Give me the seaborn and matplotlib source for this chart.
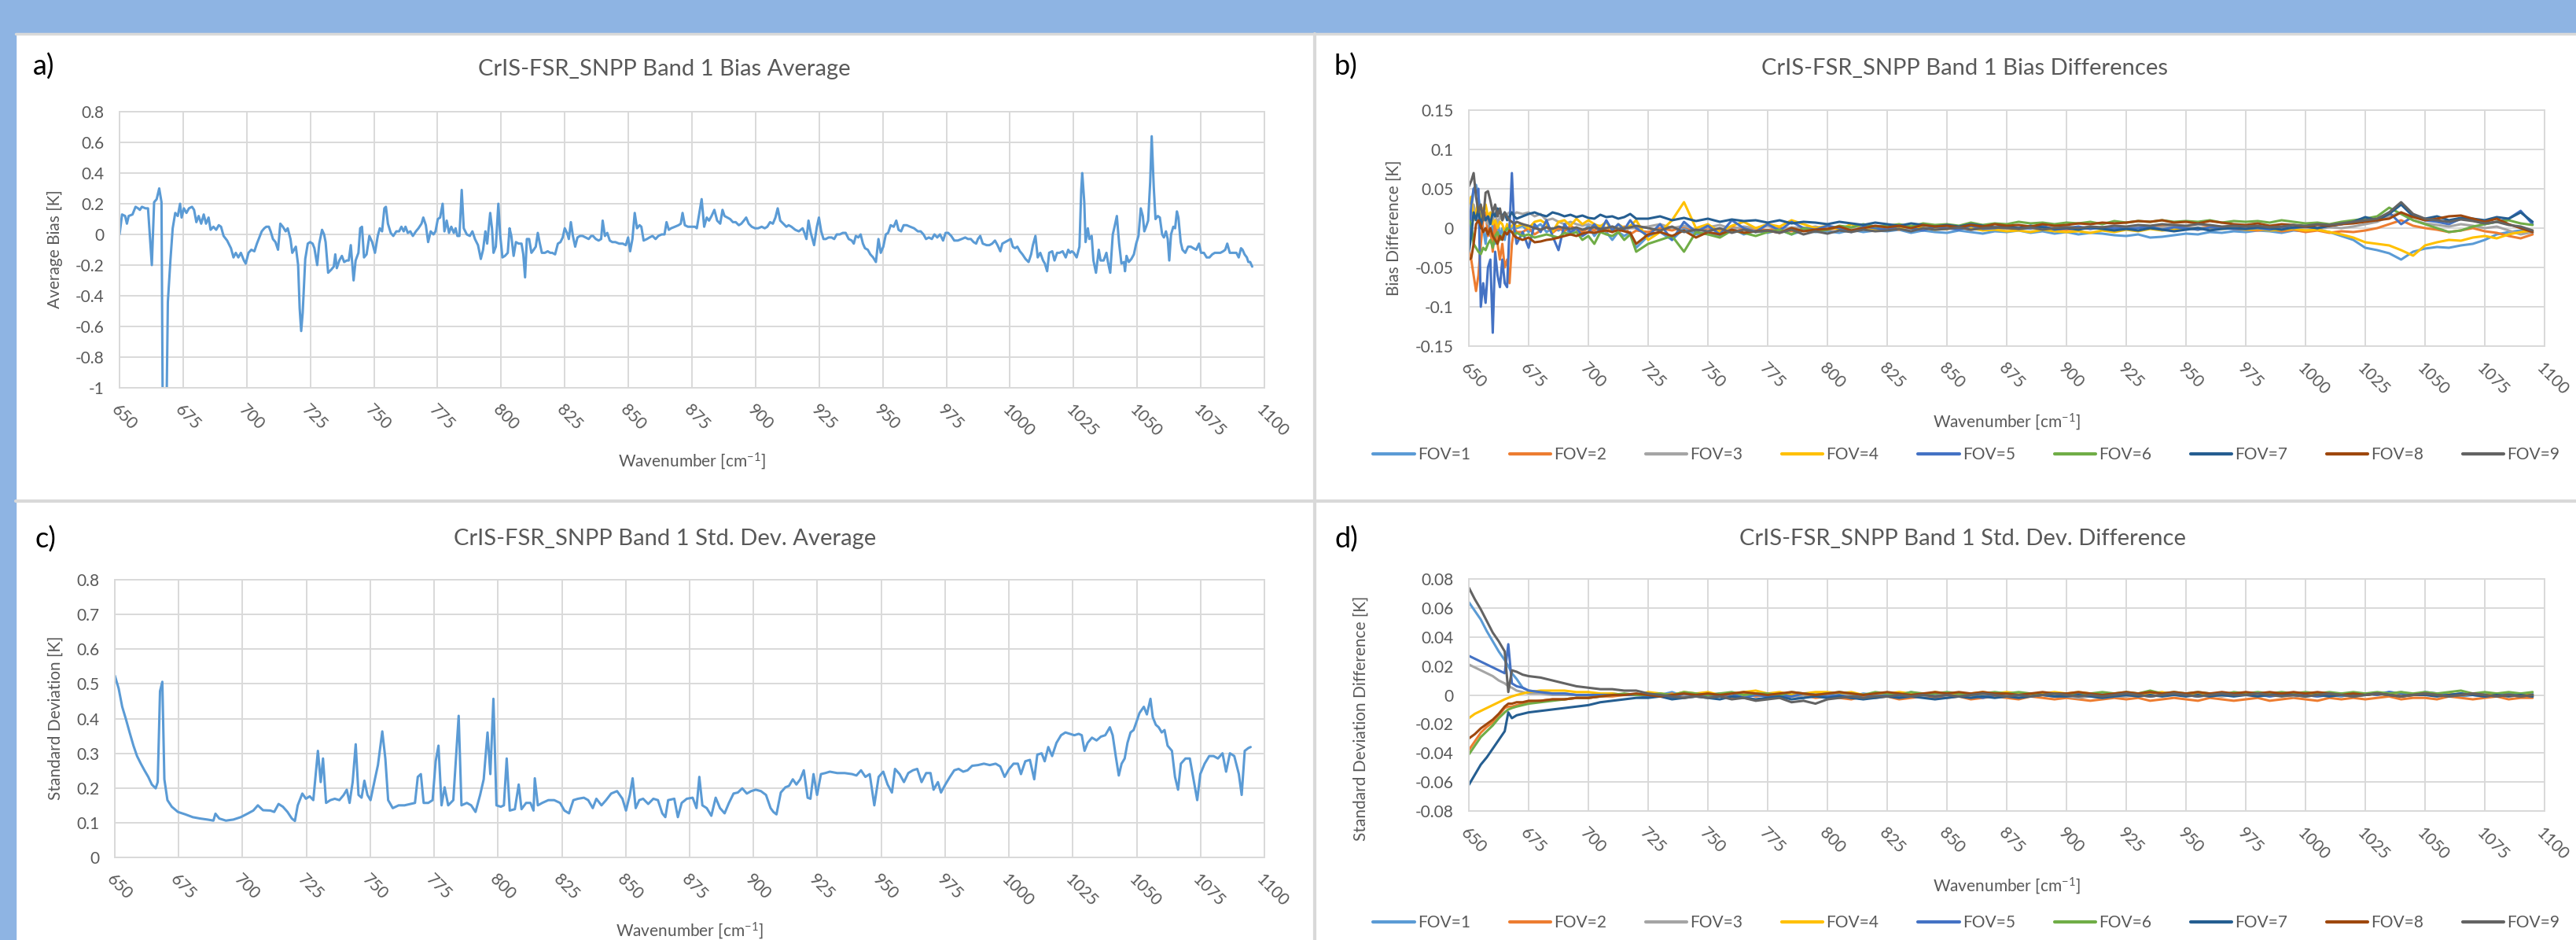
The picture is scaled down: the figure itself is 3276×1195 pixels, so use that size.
import numpy as np
import matplotlib
matplotlib.use("Agg")
import matplotlib.pyplot as plt
from matplotlib.patches import Rectangle
from matplotlib.lines import Line2D
import seaborn as sns

sns.set_style("white")
plt.rcParams['font.family'] = ['Lato', 'DejaVu Sans']
plt.rcParams['mathtext.default'] = 'regular'

# ---------------- DATA ----------------
fov_labels = ["FOV=1", "FOV=2", "FOV=3", "FOV=4", "FOV=5", "FOV=6", "FOV=7", "FOV=8", "FOV=9"]
fov_colors = ["#5B9BD5", "#ED7D31", "#A5A5A5", "#FFC000", "#4472C4", "#70AD47", "#255E91", "#9E480E", "#636363"]
x_ticks = [650, 675, 700, 725, 750, 775, 800, 825, 850, 875, 900, 925, 950, 975, 1000, 1025, 1050, 1075, 1100]
y_ticks_a = [-1, -0.8, -0.6, -0.4, -0.2, 0, 0.2, 0.4, 0.6, 0.8]
y_ticks_b = [-0.15, -0.1, -0.05, 0, 0.05, 0.1, 0.15]
y_ticks_c = [0, 0.1, 0.2, 0.3, 0.4, 0.5, 0.6, 0.7, 0.8]
y_ticks_d = [-0.08, -0.06, -0.04, -0.02, 0, 0.02, 0.04, 0.06, 0.08]

# panel a: average bias [K]
wn_a = [650.0, 651.0, 652.2, 652.9, 653.6, 655.1, 656.3, 657.3, 658.0, 658.8,
        660.2, 661.2, 662.7, 663.6, 664.6, 665.6, 666.5, 667.1, 668.2, 669.0,
        670.0, 670.9, 671.9, 672.9, 673.8, 674.4, 675.3, 676.3, 677.3, 678.5,
        679.3, 680.2, 681.1, 682.1, 683.1, 684.0, 685.0, 685.8, 686.9, 688.0,
        689.0, 689.9, 690.9, 692.3, 693.8, 694.8, 695.7, 696.7, 697.7, 698.9,
        699.6, 700.7, 701.8, 703.0, 704.0, 705.2, 705.9, 706.9, 707.7, 708.7,
        709.4, 710.3, 711.3, 712.3, 713.2, 714.2, 715.3, 716.1, 717.2, 717.9,
        718.6, 719.3, 720.2, 720.8, 721.4, 722.0, 723.0, 724.0, 724.9, 725.9,
        726.6, 727.7, 728.5, 729.6, 730.4, 731.0, 732.0, 733.2, 734.2, 734.8,
        735.4, 736.4, 737.4, 738.3, 739.3, 740.1, 740.9, 742.0, 742.8, 743.9,
        744.6, 745.3, 746.1, 747.1, 748.2, 749.3, 750.4, 751.5, 752.3, 753.2,
        754.1, 754.7, 755.5, 756.6, 757.6, 758.8, 759.9, 760.8, 761.7, 762.4,
        763.3, 764.3, 765.3, 766.5, 767.5, 768.7, 769.4, 770.4, 771.3, 772.3,
        773.4, 774.2, 775.1, 776.0, 777.0, 777.7, 778.6, 779.5, 780.4, 781.4,
        782.1, 782.8, 783.6, 784.5, 785.3, 786.5, 787.7, 788.7, 789.7, 790.9,
        792.0, 792.9, 793.8, 794.5, 795.7, 796.4, 797.0, 797.9, 798.9, 799.6,
        800.5, 801.5, 802.6, 803.3, 804.0, 804.9, 805.8, 806.9, 808.0, 808.7,
        809.4, 810.1, 811.0, 811.9, 812.8, 813.6, 814.4, 815.1, 816.0, 817.2,
        818.3, 819.3, 820.1, 821.2, 822.3, 823.3, 824.2, 825.0, 825.9, 826.6,
        827.4, 828.2, 829.1, 830.0, 831.0, 832.0, 833.2, 834.4, 835.4, 836.1,
        837.2, 838.3, 839.3, 839.9, 840.8, 841.7, 842.7, 843.7, 844.9, 846.4,
        847.8, 849.0, 849.9, 850.7, 851.6, 852.5, 853.4, 854.4, 855.1, 856.0,
        857.3, 858.3, 859.5, 860.7, 861.8, 863.1, 864.2, 865.0, 865.9, 866.8,
        868.3, 869.7, 870.6, 871.3, 872.2, 873.4, 874.8, 876.2, 876.9, 877.6,
        878.8, 879.8, 880.8, 881.7, 882.7, 883.8, 884.9, 886.1, 887.0, 887.8,
        888.9, 890.0, 891.1, 892.2, 893.4, 894.4, 895.4, 896.3, 897.3, 898.5,
        899.8, 901.0, 902.4, 903.6, 904.6, 905.7, 906.8, 907.8, 908.7, 909.7,
        910.9, 912.1, 913.0, 914.1, 915.6, 917.0, 918.5, 919.2, 920.0, 920.8,
        921.7, 923.0, 924.1, 924.9, 925.8, 926.7, 927.6, 928.7, 929.9, 930.9,
        931.9, 933.1, 934.3, 935.4, 936.6, 937.8, 938.6, 939.4, 940.4, 941.3,
        942.2, 943.0, 944.1, 945.1, 946.2, 947.3, 948.3, 949.2, 950.2, 951.2,
        952.1, 953.1, 954.3, 955.3, 956.2, 957.2, 958.2, 959.4, 960.8, 962.3,
        963.8, 964.9, 966.0, 967.0, 968.1, 969.3, 970.3, 971.4, 972.5, 973.7,
        974.7, 975.7, 976.9, 978.1, 979.5, 981.0, 982.4, 983.5, 984.6, 985.7,
        986.7, 987.4, 988.3, 989.3, 990.8, 991.9, 993.0, 994.1, 995.1, 996.2,
        997.0, 998.1, 999.2, 1000.3, 1001.1, 1002.0, 1002.9, 1003.9, 1004.9, 1006.1,
        1007.3, 1008.3, 1009.0, 1010.0, 1010.9, 1011.9, 1013.0, 1013.7, 1014.6, 1015.4,
        1016.6, 1017.5, 1018.5, 1019.5, 1020.7, 1021.9, 1022.9, 1023.6, 1024.3, 1025.1,
        1026.2, 1027.3, 1028.0, 1028.4, 1029.2, 1029.7, 1030.6, 1031.2, 1032.1, 1032.8,
        1033.8, 1034.9, 1035.6, 1036.8, 1037.9, 1038.5, 1039.4, 1040.4, 1041.1, 1042.0,
        1042.9, 1043.8, 1044.8, 1045.2, 1045.8, 1046.7, 1047.7, 1048.7, 1049.6, 1050.5,
        1051.4, 1052.2, 1052.8, 1053.5, 1054.3, 1055.1, 1055.7, 1056.5, 1057.2, 1058.1,
        1058.9, 1059.8, 1060.5, 1061.3, 1062.0, 1062.6, 1063.3, 1064.2, 1064.9, 1065.6,
        1066.2, 1067.1, 1067.8, 1068.9, 1070.0, 1071.1, 1072.1, 1073.2, 1074.3, 1075.1,
        1076.2, 1077.3, 1078.4, 1079.5, 1080.5, 1081.7, 1082.7, 1083.8, 1084.6, 1085.4,
        1086.4, 1087.3, 1088.2, 1089.0, 1089.9, 1090.8, 1091.4, 1092.2, 1093.1, 1093.7,
        1094.4, 1095.2]
bias_avg = [0.00, 0.13, 0.12, 0.07, 0.12, 0.13, 0.18, 0.17, 0.16, 0.18,
            0.17, 0.17, -0.20, 0.21, 0.23, 0.30, 0.21, -1.50, -1.50, -0.44,
            -0.17, 0.04, 0.14, 0.12, 0.20, 0.11, 0.17, 0.14, 0.17, 0.18,
            0.16, 0.08, 0.12, 0.07, 0.13, 0.07, 0.11, 0.03, 0.05, 0.03,
            0.06, 0.05, -0.01, -0.04, -0.09, -0.15, -0.12, -0.15, -0.12, -0.17,
            -0.19, -0.12, -0.10, -0.11, -0.06, -0.01, 0.02, 0.04, 0.05, 0.05,
            0.02, -0.03, -0.05, -0.10, 0.07, 0.05, 0.02, 0.04, -0.03, -0.12,
            -0.10, -0.08, -0.20, -0.48, -0.63, -0.51, -0.16, -0.06, -0.05, -0.06,
            -0.09, -0.20, -0.06, 0.03, 0.00, -0.05, -0.25, -0.23, -0.21, -0.13,
            -0.22, -0.17, -0.14, -0.18, -0.17, -0.17, -0.07, -0.30, -0.17, -0.12,
            0.04, 0.05, -0.15, -0.13, -0.01, -0.05, -0.12, -0.01, 0.04, 0.02,
            0.17, 0.18, 0.07, 0.01, -0.01, 0.02, 0.02, 0.05, 0.02, 0.05,
            0.01, 0.02, -0.01, 0.02, 0.04, 0.07, 0.11, 0.06, -0.05, 0.02,
            0.00, 0.02, 0.10, 0.11, 0.20, 0.02, 0.09, 0.01, 0.05, 0.01,
            0.04, -0.01, -0.01, 0.29, 0.04, 0.00, -0.01, 0.02, -0.03, -0.07,
            -0.16, -0.10, 0.02, -0.06, 0.14, 0.04, -0.12, -0.08, 0.20, 0.00,
            -0.15, -0.14, -0.12, 0.04, -0.01, -0.14, -0.05, -0.06, -0.06, -0.13,
            -0.28, -0.03, -0.03, -0.12, -0.10, -0.08, 0.01, -0.05, -0.12, -0.12,
            -0.11, -0.12, -0.12, -0.13, -0.06, -0.05, -0.02, 0.04, 0.01, -0.03,
            0.08, -0.01, -0.08, -0.02, -0.01, -0.01, -0.02, -0.03, -0.01, -0.01,
            -0.03, -0.04, -0.03, 0.09, -0.01, 0.01, -0.04, -0.05, -0.05, -0.06,
            -0.06, -0.07, -0.02, -0.11, -0.03, 0.14, 0.04, 0.06, 0.05, -0.04,
            -0.03, -0.02, -0.01, -0.03, -0.01, 0.00, 0.00, 0.08, 0.03, 0.04,
            0.05, 0.06, 0.07, 0.14, 0.06, 0.05, 0.05, 0.05, 0.04, 0.11,
            0.23, 0.05, 0.11, 0.09, 0.12, 0.16, 0.09, 0.07, 0.16, 0.12,
            0.11, 0.10, 0.08, 0.08, 0.06, 0.07, 0.09, 0.11, 0.07, 0.05,
            0.04, 0.04, 0.05, 0.04, 0.05, 0.08, 0.07, 0.11, 0.17, 0.09,
            0.07, 0.05, 0.06, 0.05, 0.03, 0.02, 0.04, 0.01, -0.03, 0.09,
            0.01, -0.07, 0.05, 0.11, 0.02, -0.03, -0.03, -0.02, -0.02, -0.03,
            0.00, 0.00, 0.01, 0.01, -0.03, -0.04, -0.06, -0.01, -0.02, 0.00,
            -0.06, -0.09, -0.10, -0.13, -0.15, -0.18, -0.03, -0.12, -0.08, 0.00,
            0.01, 0.06, 0.05, 0.09, 0.03, 0.02, 0.06, 0.06, 0.05, 0.04,
            0.02, 0.02, 0.00, -0.03, -0.02, -0.03, 0.00, -0.02, 0.00, -0.04,
            0.01, 0.01, -0.01, -0.04, -0.04, -0.03, -0.02, -0.03, -0.03, -0.05,
            -0.06, -0.03, -0.01, -0.06, -0.07, -0.07, -0.06, -0.04, -0.07, -0.11,
            -0.06, -0.05, -0.04, -0.03, -0.08, -0.09, -0.08, -0.11, -0.13, -0.16,
            -0.18, -0.13, -0.07, -0.01, -0.15, -0.12, -0.17, -0.19, -0.24, -0.12,
            -0.11, -0.17, -0.12, -0.12, -0.11, -0.15, -0.10, -0.12, -0.11, -0.12,
            -0.15, -0.08, 0.29, 0.40, 0.21, -0.05, 0.04, -0.03, -0.01, -0.17,
            -0.25, -0.10, -0.17, -0.17, -0.12, -0.18, -0.25, 0.00, 0.05, 0.12,
            -0.06, -0.19, -0.18, -0.24, -0.14, -0.18, -0.16, -0.13, -0.06, -0.01,
            0.17, 0.12, 0.02, 0.05, 0.09, 0.34, 0.64, 0.31, 0.10, 0.12,
            0.11, 0.00, -0.02, 0.02, -0.03, -0.17, 0.00, 0.05, 0.04, 0.15,
            0.11, -0.05, -0.10, -0.12, -0.08, -0.08, -0.09, -0.10, -0.06, -0.12,
            -0.12, -0.15, -0.15, -0.13, -0.12, -0.12, -0.12, -0.11, -0.10, -0.06,
            -0.12, -0.12, -0.12, -0.12, -0.15, -0.09, -0.10, -0.13, -0.15, -0.18,
            -0.18, -0.21]

# panel c: average standard deviation [K]
wn_c = [650.0, 651.5, 652.9, 654.4, 655.8, 657.3, 658.7, 660.2, 661.6, 663.1,
        664.5, 666.0, 666.8, 667.7, 668.6, 669.4, 670.6, 672.3, 674.7, 677.6,
        680.5, 683.4, 686.3, 688.6, 689.4, 690.9, 693.5, 696.4, 699.3, 702.2,
        704.2, 706.0, 708.0, 710.9, 712.4, 714.1, 715.8, 717.6, 719.3, 720.5,
        721.6, 723.4, 724.8, 726.3, 727.7, 729.5, 730.6, 731.5, 732.7, 734.4,
        736.1, 737.9, 739.6, 740.8, 741.9, 743.1, 744.3, 745.4, 746.6, 747.7,
        748.9, 750.1, 751.8, 753.0, 754.7, 755.9, 757.0, 758.8, 761.1, 763.4,
        765.7, 767.5, 768.6, 769.8, 770.9, 772.7, 774.4, 775.6, 776.7, 777.9,
        779.1, 780.5, 782.5, 784.6, 785.7, 787.8, 789.5, 791.2, 793.0, 794.4,
        795.9, 797.0, 798.2, 799.4, 801.1, 802.3, 803.4, 804.6, 806.6, 808.1,
        809.2, 811.0, 812.7, 813.9, 814.4, 815.6, 817.3, 819.7, 822.0, 824.3,
        826.0, 827.8, 829.5, 831.3, 833.6, 835.3, 837.1, 838.5, 840.5, 842.3,
        844.3, 846.6, 848.7, 850.1, 851.6, 852.7, 853.9, 855.3, 856.8, 858.8,
        860.8, 862.6, 864.3, 865.5, 866.6, 869.0, 870.4, 871.9, 873.9, 876.2,
        877.7, 878.8, 880.0, 881.7, 883.5, 885.2, 886.9, 888.7, 890.4, 892.2,
        893.9, 895.6, 897.4, 899.1, 900.9, 902.9, 904.9, 906.7, 907.8, 909.0,
        910.7, 912.5, 913.9, 915.4, 916.8, 918.3, 919.7, 921.2, 922.3, 923.5,
        924.9, 926.4, 928.1, 929.9, 932.8, 935.7, 938.6, 940.3, 942.1, 943.8,
        945.5, 947.3, 949.0, 950.8, 952.5, 954.2, 955.4, 957.2, 958.9, 960.6,
        962.4, 964.1, 965.8, 967.6, 969.3, 970.5, 972.2, 973.4, 975.1, 976.9,
        978.6, 980.3, 982.1, 983.8, 985.6, 987.9, 990.2, 992.5, 994.8, 996.6,
        998.3, 1000.1, 1001.8, 1003.5, 1004.7, 1006.4, 1008.2, 1009.9, 1011.1, 1012.8,
        1014.0, 1015.4, 1016.9, 1018.6, 1020.4, 1022.1, 1023.8, 1025.6, 1027.3, 1028.5,
        1029.6, 1030.8, 1032.5, 1034.3, 1036.0, 1037.7, 1039.5, 1040.6, 1041.8, 1043.0,
        1044.1, 1045.3, 1046.4, 1047.6, 1048.8, 1049.9, 1051.1, 1052.8, 1054.0, 1055.4,
        1056.3, 1057.5, 1058.6, 1059.8, 1060.9, 1062.1, 1063.8, 1065.0, 1066.2, 1067.3,
        1069.1, 1070.8, 1072.6, 1073.7, 1074.9, 1076.6, 1078.4, 1080.1, 1081.8, 1083.6,
        1085.0, 1086.5, 1088.2, 1090.0, 1091.1, 1092.3, 1093.7, 1094.6]
std_avg = [0.524, 0.487, 0.434, 0.397, 0.360, 0.322, 0.292, 0.270, 0.251, 0.232,
           0.210, 0.199, 0.217, 0.479, 0.506, 0.225, 0.165, 0.146, 0.131, 0.124,
           0.116, 0.112, 0.109, 0.106, 0.126, 0.112, 0.106, 0.109, 0.116, 0.127,
           0.135, 0.150, 0.136, 0.135, 0.131, 0.154, 0.146, 0.131, 0.112, 0.105,
           0.150, 0.184, 0.169, 0.176, 0.165, 0.307, 0.217, 0.285, 0.157, 0.165,
           0.169, 0.165, 0.180, 0.195, 0.157, 0.217, 0.326, 0.180, 0.172, 0.221,
           0.180, 0.165, 0.225, 0.266, 0.363, 0.285, 0.165, 0.142, 0.150, 0.150,
           0.154, 0.157, 0.232, 0.240, 0.157, 0.157, 0.165, 0.277, 0.322, 0.150,
           0.202, 0.150, 0.165, 0.408, 0.150, 0.157, 0.150, 0.131, 0.180, 0.225,
           0.360, 0.240, 0.457, 0.150, 0.146, 0.150, 0.285, 0.135, 0.139, 0.210,
           0.139, 0.157, 0.157, 0.135, 0.228, 0.150, 0.157, 0.165, 0.165, 0.157,
           0.135, 0.127, 0.165, 0.169, 0.172, 0.165, 0.142, 0.169, 0.150, 0.165,
           0.184, 0.191, 0.169, 0.135, 0.180, 0.228, 0.142, 0.165, 0.169, 0.154,
           0.169, 0.165, 0.127, 0.116, 0.165, 0.169, 0.116, 0.157, 0.169, 0.172,
           0.142, 0.232, 0.150, 0.142, 0.120, 0.172, 0.142, 0.127, 0.157, 0.184,
           0.187, 0.199, 0.184, 0.191, 0.195, 0.191, 0.180, 0.142, 0.131, 0.124,
           0.187, 0.202, 0.206, 0.225, 0.210, 0.225, 0.251, 0.172, 0.169, 0.240,
           0.180, 0.240, 0.243, 0.247, 0.243, 0.243, 0.240, 0.236, 0.251, 0.232,
           0.240, 0.150, 0.232, 0.247, 0.210, 0.187, 0.255, 0.240, 0.217, 0.243,
           0.251, 0.255, 0.217, 0.243, 0.243, 0.195, 0.217, 0.187, 0.210, 0.232,
           0.251, 0.255, 0.247, 0.251, 0.264, 0.266, 0.270, 0.266, 0.270, 0.262,
           0.232, 0.255, 0.270, 0.270, 0.240, 0.277, 0.281, 0.225, 0.296, 0.300,
           0.277, 0.318, 0.292, 0.330, 0.352, 0.360, 0.356, 0.352, 0.356, 0.352,
           0.307, 0.330, 0.345, 0.337, 0.348, 0.352, 0.375, 0.352, 0.292, 0.236,
           0.270, 0.285, 0.330, 0.360, 0.367, 0.390, 0.416, 0.434, 0.412, 0.457,
           0.404, 0.382, 0.375, 0.360, 0.367, 0.322, 0.307, 0.232, 0.195, 0.270,
           0.285, 0.285, 0.210, 0.165, 0.240, 0.270, 0.292, 0.292, 0.285, 0.300,
           0.247, 0.300, 0.292, 0.240, 0.180, 0.307, 0.315, 0.318]

# panel b: bias difference per FOV [mK]; wavenumber grid: 650-670 by 1, 672.5-720 by 2.5, 725-1095 by 5
wn_b = list(np.arange(650, 670.5, 1.0)) + list(np.arange(672.5, 720.1, 2.5)) + list(np.arange(725, 1095.1, 5.0))
bias_fov1 = [0, 20, 50, 55, 40, 20, 0, -20, 10, -10, 5, -20, 10, -10, 0, -15, 5, -5, 0, 5, 0,
             3, -5, 0, 5, -5, 0, -3, 2, -8, 0, -5, 3, -10, 0, -5, -15, -5, -10, -5, -25,
             -10, -5, -15, 0, -8, -5, -10, 0, -8, -3, -6, -2, -8, -3, -5, -4, -6, -2, -5, -3, -4, -2, -6, -3, -5,
             -6, -3, -5, -7, -4, -5, -3, -6, -4, -7, -5, -8, -6, -7, -9, -10, -8, -12, -11, -9, -7, -8, -5, -6, -4,
             -5, -3, -4, -6, -3, -4, -2, -5, -10, -15, -25, -28, -32, -40, -30, -26, -24, -25, -22, -20, -15, -8, -5, -3, -6]
bias_fov2 = [-30, -40, -60, -80, -60, -20, 10, 20, -10, 0, -30, 10, -20, -40, -20, -50, -40, -70, -20, 0, -5,
             -5, 0, -8, -3, 2, -6, 0, -4, 3, -2, -5, 0, -3, 2, -4, 0, -6, 2, -8, -3,
             -5, 0, -3, 2, -4, 0, -3, 2, -2, 0, -3, 1, -4, 0, -2, -2, 0, -3, 1, -1, 0, -2, 1, -1, 0,
             -1, 1, -2, 0, 1, 0, -1, 1, 0, -1, -2, 0, -1, 1, -2, 0, 2, 1, 3, 2, 1, 0, 2, 1, -1,
             -2, -3, -1, -4, -2, -5, -3, -6, -4, -5, -3, 0, 5, 10, 3, 0, -2, -5, -3, 0, -4, -6, -10, -13, -8]
bias_fov3 = [20, 10, 30, 15, 25, 5, 20, 10, 5, 15, 10, 20, 5, 15, 10, 15, 18, 20, 20, 18, 20,
             18, 20, 15, 18, 10, 12, 8, 5, 8, 5, 3, 5, 2, 3, 0, 2, 0, -2, 0, 0,
             2, 5, 0, 3, -2, 1, 4, -1, 2, 0, 3, -2, 1, 0, 2, -1, 2, 0, -2, 1, 0, 1, -1, 2, 0,
             1, -1, 0, 2, -1, 0, 1, -1, 0, 1, 2, 0, 1, -1, 0, 1, 2, 0, 1, 2, 0, 1, -1, 0, 1,
             -1, 0, 1, -2, 0, 0, -1, 1, 0, 2, 5, 8, 15, 20, 10, 6, 4, 2, 5, 3, 0, 2, -3, -8, -5]
bias_fov4 = [30, 40, 10, 20, 35, 5, 25, 30, 15, 20, 5, 10, 0, 8, 5, -5, 5, 0, 3, 5, 2,
             5, 0, 8, 10, 5, -5, 8, 10, 3, 12, 5, 10, 5, 2, 8, -5, 5, 0, 3, 10,
             -15, -5, 10, 33, 0, 5, -5, 3, 8, 0, 5, 2, 10, 5, 0, 3, -2, 5, 0, -3, 2, -1, 3, 0, -2,
             -1, 2, 0, -3, -2, -4, -3, -5, -2, -4, -5, -4, -6, -3, -5, -2, -4, -1, -3, -2, 0, -2, 1, -1, 0,
             -2, -1, -3, -2, -1, -3, -2, -5, -8, -12, -18, -20, -22, -28, -35, -22, -18, -15, -16, -12, -10, -13, -8, -5, -3]
bias_fov5 = [-20, 30, 50, 45, 50, -100, -70, -95, -50, -40, -133, -30, -60, -75, -40, -70, -75, 0, 70, 0, -20,
             -5, -25, 5, -5, 10, -10, -28, 5, -5, 0, -10, -5, 5, -5, 10, -3, 5, -2, 10, 0,
             -10, 5, -15, 8, -5, 3, -8, 10, 0, -5, 5, -3, 8, 0, -2, 3, 0, -5, 2, 0, -2, 3, 0, -3, 2,
             0, -2, 3, -1, 0, 2, -1, 0, 3, -2, 0, 2, -1, 1, 0, -1, 0, 2, -2, 1, 0, -2, 1, 0, -1,
             -1, 0, -2, 1, 0, 2, 0, 3, 5, 8, 12, 10, 20, 5, 15, 10, 8, 5, 12, 10, 5, 8, 12, 22, 5]
bias_fov6 = [10, 5, -20, -25, -30, -33, -25, -28, -20, -15, -25, -10, -5, -15, -10, -5, 0, -3, -5, -8, -6,
             -10, -8, -12, -10, -8, -10, -12, -6, -8, -5, -15, -10, -20, -5, -8, -10, -5, -15, -8, -30,
             -20, -15, -10, -30, -5, -8, -12, -3, -6, -10, -5, -2, -8, 0, -4, -2, 3, 1, 5, 2, 3, 5, 2, 6, 4,
             5, 3, 7, 4, 6, 5, 8, 6, 7, 5, 7, 6, 8, 5, 9, 7, 9, 8, 10, 8, 9, 8, 10, 7, 9,
             8, 9, 7, 10, 8, 6, 7, 5, 8, 10, 12, 15, 26, 18, 10, 5, 0, -5, -3, 2, 5, 8, 10, 6, 4]
bias_fov7 = [-30, -10, 20, 10, 25, 0, 20, 10, 15, 5, 20, 15, 25, 20, 15, 20, 10, 15, 20, 15, 12,
             15, 18, 20, 17, 15, 20, 18, 15, 17, 14, 16, 13, 12, 17, 14, 15, 12, 14, 18, 12,
             12, 15, 10, 13, 9, 12, 8, 11, 9, 10, 7, 10, 6, 8, 7, 5, 8, 6, 4, 7, 5, 3, 6, 4, 2,
             4, 2, 5, 3, 1, 2, 0, 3, 1, -1, 0, -2, 1, -1, -3, -1, -3, 0, -2, -4, -2, 0, -3, -1, 0,
             -1, 1, 0, -2, 1, 2, 0, 3, 5, 8, 14, 10, 18, 30, 15, 12, 15, 10, 13, 12, 10, 14, 12, 20, 8]
bias_fov8 = [-40, -38, -20, 5, 10, 3, -5, 0, -8, 0, -10, -15, -20, -10, -15, -5, -8, -3, -5, -10, -12,
             -15, -12, -18, -17, -15, -14, -12, -10, -8, -10, -7, -5, -6, -4, -3, -5, -2, -4, -6, -20,
             -8, -5, -10, -3, -12, -5, -8, -2, -6, -4, -3, -6, 0, -4, -2, -1, 2, -3, 0, 3, 1, 3, 0, 4, 2,
             3, 1, 4, 2, 5, 3, 4, 2, 5, 3, 4, 6, 5, 7, 6, 7, 9, 8, 10, 7, 8, 6, 9, 7, 5,
             4, 6, 3, 5, 4, 2, 4, 3, 5, 6, 8, 10, 12, 20, 14, 10, 12, 15, 16, 12, 8, 12, 5, 0, -5]
bias_fov9 = [53, 60, 70, 40, 20, 30, 10, 45, 47, 35, 20, 30, 15, 25, 10, 20, 15, 10, 8, 5, 8,
             5, 3, 0, -2, 1, -1, 2, 0, -1, 1, -2, 0, 1, -1, 0, 2, -1, 0, 1, 3,
             0, -3, 2, -5, -2, -4, 0, -6, -2, -5, -3, -6, -2, -8, -4, -7, -3, -5, -2, -4, -3, -1, -4, 0, -2,
             -1, 1, -2, 0, 1, 0, -1, 1, -2, 0, 1, 0, 2, 1, 3, 2, 4, 3, 5, 4, 3, 5, 4, 2, 3,
             2, 3, 1, 2, 4, 3, 5, 4, 6, 8, 10, 12, 20, 33, 18, 12, 10, 8, 11, 9, 6, 8, 4, 2, -3]

# panel d: standard deviation difference per FOV [mK]
wn_d = [650, 652.5, 655, 657.5, 660, 662.5, 665, 666.5, 668, 670, 672.5, 675, 680, 685, 690, 695, 700, 705,
        710, 715, 720] + list(np.arange(725, 1095.1, 5.0))
std_fov1 = [64, 58, 52, 44, 37, 30, 24, 20, 15, 11, 5, 3, 2, 1, 1, 0, 0, 0, 1, 0, 0,
            1, 0, 2, -1, 1, 0, 1, -1, 2, 0, -1, 1, 0, -2, 1, 0, 2, -1, 1, 0, 1, 0, 2, 0, -1,
            0, 1, 0, -1, 1, 0, -1, 1, 0, 1, 0, 1, 0, 1, -1, 0, 1, -1, 0, 1, 0, -1, 1, 0, 0,
            1, 0, -1, 1, 0, 0, 1, 0, -1, 1, 0, 1, 2, 1, 0, 1, 0, 1, -1, 0, 1, 0, 1, 0, 1]
std_fov2 = [-38, -32, -26, -22, -19, -14, -9, -8, -8, -7, -6, -5, -4, -3, -3, -2, -2, -1, -1, 0, 0,
            0, -1, 1, -2, 0, -1, 0, -2, 1, -1, 0, -2, -1, 0, -2, -1, -2, -3, -1, -2, -1, -3, -2, -1, -2,
            -2, -1, -3, -2, -1, -2, -3, -1, -2, -3, -2, -3, -4, -3, -2, -3, -2, -4, -3, -2, -3, -4, -2, -3, -4,
            -3, -2, -4, -3, -2, -3, -4, -2, -3, -2, -3, -2, -1, -3, -2, -2, -3, -1, -2, -3, -2, -1, -3, -2, -2]
std_fov3 = [21, 19, 17, 15, 13, 10, 8, 6, 5, 3, 2, 1, 1, 0, 0, 0, 0, 0, 0, 0, 0,
            0, 1, -1, 0, 1, -1, 0, 1, -1, 0, 1, 0, -1, 0, 1, 0, -1, 1, 0, -1, 0, 1, 0, -1, 0,
            1, 0, -1, 0, 1, 0, -1, 0, 1, 0, -1, -2, -1, -2, -1, -1, 0, -1, 0, 1, 0, 1, 0, -1, 0,
            1, 0, 1, 0, -1, 0, -1, 0, 1, 0, 1, 0, 1, 2, 0, 1, 0, -1, 0, 1, 0, 1, 0, -1, 0]
std_fov4 = [-16, -13, -11, -9, -7, -5, -3, -2, -1, 0, 1, 2, 3, 3, 3, 2, 2, 1, 1, 0, 0,
            2, 1, 0, 2, 1, 2, 0, 1, 2, 3, 1, 2, 0, 1, 2, 2, 1, 2, 0, 1, 1, 2, 1, 0, 2,
            1, 0, 1, 2, 1, 2, 1, 0, 1, 2, 1, 2, 1, 0, 1, 1, 0, 1, 2, 0, 1, 0, 1, 0, 1,
            0, 1, 0, 1, 0, 1, 0, 1, 0, 1, 0, 1, 0, 1, 0, 1, 0, 1, 0, 1, 0, 1, 0, 1, 0]
std_fov5 = [27, 25, 23, 21, 19, 17, 15, 35, 8, 6, 5, 3, 2, 1, 1, 0, 0, 0, 0, 0, 0,
            -1, 0, -2, 1, -1, 0, -1, 1, -2, 0, -1, 0, -1, 1, 0, -1, 0, -2, 0, -1, 0, -1, 0, 1, -1,
            0, -1, 0, -2, 0, -1, 0, 1, 0, -1, 0, 1, 0, -1, 0, 1, 0, -1, 0, 1, 0, -1, 0, 1, 0,
            0, 1, -1, 0, 1, 0, -1, 0, 1, 0, 1, 0, 2, 1, 0, 2, 1, 0, 1, 0, -1, 0, 1, 0, -1]
std_fov6 = [-41, -35, -29, -25, -21, -16, -12, -10, -9, -8, -7, -6, -5, -4, -3, -2, -2, -1, 0, 1, 0,
            0, 1, 0, 2, 1, 0, 1, 2, 0, 1, 1, 0, 2, 1, 0, 1, 2, 1, 0, 2, 1, 0, 2, 1, 1,
            2, 1, 0, 1, 2, 1, 2, 1, 0, 1, 1, 0, 1, 2, 1, 2, 1, 3, 1, 2, 1, 2, 1, 0, 2,
            1, 2, 1, 2, 1, 2, 1, 2, 1, 2, 1, 2, 1, 2, 1, 2, 1, 2, 3, 1, 2, 1, 2, 1, 2]
std_fov7 = [-62, -55, -48, -43, -37, -31, -25, -12, -16, -14, -13, -12, -11, -10, -9, -8, -7, -5, -4, -3, -2,
            -2, -1, -3, -2, -1, -2, -3, -1, -2, -3, -2, -1, -3, -2, -1, -2, -1, -2, -3, -2, -1, -2, -1, -2, -3,
            -2, -1, -2, -1, -2, -1, -2, -1, 0, -1, -1, 0, -1, -2, -1, 0, -1, 0, -1, 0, -1, 0, -1, 0, -1,
            0, -1, 0, 1, 0, -1, 0, -1, 0, -1, 0, 1, 0, -1, 0, 0, -1, 0, 1, 0, -1, 0, -1, 0, -1]
std_fov8 = [-30, -27, -23, -20, -17, -13, -8, -6, -6, -5, -5, -4, -4, -3, -3, -2, -2, -1, 0, 0, 1,
            0, -1, 0, 1, 0, 1, 0, 1, 2, 1, 0, 1, 2, 1, 0, 1, 2, 1, 0, 1, 2, 1, 0, 1, 2,
            1, 2, 1, 2, 1, 1, 0, 1, 2, 1, 1, 2, 1, 0, 1, 2, 1, 2, 1, 2, 1, 2, 1, 2, 1,
            2, 1, 2, 1, 2, 1, 2, 1, 0, 1, 0, 1, 0, -1, 0, 1, 0, -1, 0, 1, 0, -1, 0, -1, 0]
std_fov9 = [74, 66, 59, 51, 43, 37, 30, 2, 17, 16, 14, 13, 12, 10, 8, 6, 5, 4, 4, 3, 3,
            1, 0, -1, -2, -1, -2, -1, -3, -2, -4, -3, -2, -5, -4, -6, -3, -2, -1, -2, -1, -1, 0, -1, 0, -1,
            0, -1, 0, 1, 0, -1, 0, -1, 0, 1, 0, -1, 0, -1, 0, 1, 0, -1, 0, 1, 0, -1, 0, 1, 0,
            0, 1, 0, -1, 0, -1, 0, 1, 0, -1, 0, 1, 0, -1, 0, 1, 0, -1, 0, 1, 0, -1, 0, -1, 0]

bias_fovs = [bias_fov1, bias_fov2, bias_fov3, bias_fov4, bias_fov5, bias_fov6, bias_fov7, bias_fov8, bias_fov9]
std_fovs = [std_fov1, std_fov2, std_fov3, std_fov4, std_fov5, std_fov6, std_fov7, std_fov8, std_fov9]

# ---------------- LAYOUT ----------------
W, H = 3276, 1195
TXT = "#595959"
GRID = "#D9D9D9"
BLUE = "#5B9BD5"

fig = plt.figure(figsize=(W / 100, H / 100), dpi=100)
fig.patch.set_facecolor("white")

def fx(x):
    return x / W

def fy(y):
    return 1 - y / H

# background frame
fig.add_artist(Rectangle((0, fy(42)), 1, 42 / H, transform=fig.transFigure, color="#8EB4E3", zorder=0))
fig.add_artist(Rectangle((0, 0), 20 / W, 1, transform=fig.transFigure, color="#8EB4E3", zorder=0))
fig.add_artist(Line2D([fx(20), 1], [fy(43), fy(43)], transform=fig.transFigure, color=GRID, lw=2.5))
fig.add_artist(Line2D([fx(20), 1], [fy(637), fy(637)], transform=fig.transFigure, color=GRID, lw=3))
fig.add_artist(Line2D([fx(1672), fx(1672)], [fy(43), 0], transform=fig.transFigure, color=GRID, lw=3))

def add_ax(l, t, r, b):
    return fig.add_axes([fx(l), fy(b), (r - l) / W, (b - t) / H])

def fmt(v):
    return f"{round(v, 4):g}"

def style(ax, yticks):
    ax.set_xlim(650, 1100)
    ax.set_ylim(yticks[0], yticks[-1])
    ax.set_xticks(x_ticks)
    ax.set_xticklabels([str(t) for t in x_ticks], rotation=-45, ha="left", va="top",
                       rotation_mode="anchor", fontsize=15, color=TXT)
    ax.set_yticks(yticks)
    ax.set_yticklabels([fmt(t) for t in yticks], fontsize=15, color=TXT)
    ax.tick_params(axis="both", length=0)
    ax.tick_params(axis="y", pad=14)
    ax.tick_params(axis="x", pad=13)
    ax.grid(True, color=GRID, lw=1.4)
    ax.set_axisbelow(True)
    for s in ax.spines.values():
        s.set_color(GRID)
        s.set_linewidth(1.4)
    ax.set_xlabel("")
    ax.set_ylabel("")

XLAB = "Wavenumber [cm$^{-1}$]"

# ---- panel a
ax_a = add_ax(152, 142, 1608, 493)
sns.lineplot(x=wn_a, y=bias_avg, ax=ax_a, color=BLUE, linewidth=2.2, sort=False, estimator=None)
style(ax_a, y_ticks_a)

# ---- panel c
ax_c = add_ax(146, 737, 1608, 1090)
sns.lineplot(x=wn_c, y=std_avg, ax=ax_c, color=BLUE, linewidth=2.2, sort=False, estimator=None)
style(ax_c, y_ticks_c)

# ---- panel b
ax_b = add_ax(1868, 140, 3236, 440)
for lab, col, ser in zip(fov_labels, fov_colors, bias_fovs):
    sns.lineplot(x=wn_b, y=np.array(ser) / 1000.0, ax=ax_b, color=col, linewidth=2.2,
                 sort=False, estimator=None, legend=False)
style(ax_b, y_ticks_b)

# ---- panel d
ax_d = add_ax(1868, 736, 3236, 1031)
for lab, col, ser in zip(fov_labels, fov_colors, std_fovs):
    sns.lineplot(x=wn_d, y=np.array(ser) / 1000.0, ax=ax_d, color=col, linewidth=2.2,
                 sort=False, estimator=None, legend=False)
style(ax_d, y_ticks_d)

# legends
handles = [Line2D([], [], color=c, lw=3) for c in fov_colors]
for ax, ycen in [(ax_b, 578), (ax_d, 1173)]:
    ax.legend(handles, fov_labels, loc="center", bbox_to_anchor=(fx(2501), fy(ycen)),
              bbox_transform=fig.transFigure, ncol=9, frameon=False, fontsize=15,
              handlelength=2.5, handletextpad=0.2, columnspacing=2.4, labelcolor=TXT)

# titles
fig.text(fx(845), fy(88), "CrIS-FSR_SNPP Band 1 Bias Average", ha="center", va="center", fontsize=21, color=TXT)
fig.text(fx(2499), fy(87), "CrIS-FSR_SNPP Band 1 Bias Differences", ha="center", va="center", fontsize=21, color=TXT)
fig.text(fx(846), fy(685), "CrIS-FSR_SNPP Band 1 Std. Dev. Average", ha="center", va="center", fontsize=21, color=TXT)
fig.text(fx(2496), fy(685), "CrIS-FSR_SNPP Band 1 Std. Dev. Difference", ha="center", va="center", fontsize=21, color=TXT)

# panel letters
fig.text(fx(42), fy(85), "a)", ha="left", va="center", fontsize=26, color="black")
fig.text(fx(1696), fy(85), "b)", ha="left", va="center", fontsize=26, color="black")
fig.text(fx(45), fy(686), "c)", ha="left", va="center", fontsize=26, color="black")
fig.text(fx(1697), fy(686), "d)", ha="left", va="center", fontsize=26, color="black")

# axis labels
fig.text(fx(880), fy(586), XLAB, ha="center", va="center", fontsize=15, color=TXT)
fig.text(fx(2552), fy(536), XLAB, ha="center", va="center", fontsize=15, color=TXT)
fig.text(fx(877), fy(1183), XLAB, ha="center", va="center", fontsize=15, color=TXT)
fig.text(fx(2552), fy(1126), XLAB, ha="center", va="center", fontsize=15, color=TXT)
fig.text(fx(70), fy(317), "Average Bias [K]", rotation=90, ha="center", va="center", fontsize=15, color=TXT)
fig.text(fx(1773), fy(290), "Bias Difference [K]", rotation=90, ha="center", va="center", fontsize=15, color=TXT)
fig.text(fx(71), fy(913), "Standard Deviation [K]", rotation=90, ha="center", va="center", fontsize=15, color=TXT)
fig.text(fx(1731), fy(913), "Standard Deviation Difference [K]", rotation=90, ha="center", va="center", fontsize=15, color=TXT)

fig.savefig("out.png", dpi=100, facecolor="white")
